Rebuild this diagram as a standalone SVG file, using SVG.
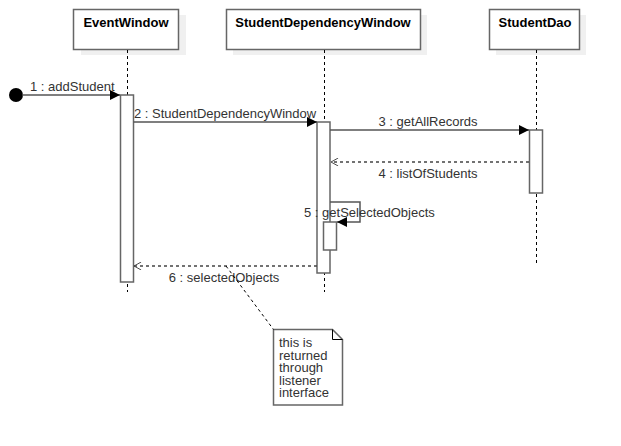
<svg xmlns="http://www.w3.org/2000/svg" width="621" height="446" viewBox="0 0 621 446">
<defs>
<marker id="filled" viewBox="0 0 10 10" refX="10" refY="5" markerWidth="12" markerHeight="10" markerUnits="userSpaceOnUse" orient="auto"><path d="M0,0 L10,5 L0,10 z" fill="#000"/></marker>
<marker id="open" viewBox="0 0 10 10" refX="9" refY="5" markerWidth="10" markerHeight="8" markerUnits="userSpaceOnUse" orient="auto"><path d="M0,0 L9,5 L0,10" fill="none" stroke="#444" stroke-width="1.2"/></marker>
</defs>
<style>
.shadow{fill:#f0f0f0;stroke:none}
.box{fill:#fff;stroke:#666;stroke-width:1.5}
.title{font-family:"Liberation Sans",Arial,sans-serif;font-size:13px;font-weight:bold;fill:#000;text-anchor:middle}
.life{stroke:#000;stroke-width:1;stroke-dasharray:3,3;fill:none}
.act{fill:#fff;stroke:#666;stroke-width:1.5}
.msg{stroke:#555;stroke-width:1.5;fill:none}
.ret{stroke:#444;stroke-width:1.3;stroke-dasharray:3,3;fill:none}
.lbl{font-family:"Liberation Sans",Arial,sans-serif;font-size:13px;fill:#333}
.note{fill:#fff;stroke:#666;stroke-width:1.5}
</style>
<g id="lifeline-EventWindow">
<rect class="shadow" x="81" y="15" width="105" height="40"/>
<rect class="box" x="73.5" y="9.5" width="105" height="40"/>
<text class="title" x="126" y="27">EventWindow</text>
<line class="life" x1="127.5" y1="50" x2="127.5" y2="292"/>
<rect class="act" x="120.5" y="95" width="13" height="187"/>
</g>
<g id="lifeline-StudentDependencyWindow">
<rect class="shadow" x="233" y="15" width="194" height="40"/>
<rect class="box" x="226.5" y="9.5" width="194" height="40"/>
<text class="title" x="323" y="27">StudentDependencyWindow</text>
<line class="life" x1="324.5" y1="50" x2="324.5" y2="292"/>
<rect class="act" x="317" y="122" width="13" height="151"/>
<rect class="act" x="323.5" y="222" width="13" height="28"/>
</g>
<g id="lifeline-StudentDao">
<rect class="shadow" x="496" y="15" width="90" height="40"/>
<rect class="box" x="489.5" y="9.5" width="90" height="40"/>
<text class="title" x="535" y="27">StudentDao</text>
<line class="life" x1="536.5" y1="50" x2="536.5" y2="263"/>
<rect class="act" x="529.5" y="130" width="13" height="63"/>
</g>
<g id="note">
<path class="note" d="M273.5,329.5 H332.5 L342.5,339.5 V405 H273.5 Z"/>
<path d="M332.5,329.5 V339.5 H342.5" fill="none" stroke="#000" stroke-width="1"/>
<text class="lbl" x="279" y="347">this is</text>
<text class="lbl" x="279" y="359.5">returned</text>
<text class="lbl" x="279" y="372">through</text>
<text class="lbl" x="279" y="384.5">listener</text>
<text class="lbl" x="279" y="397">interface</text>
</g>
<g id="connectors">
<circle cx="16" cy="95" r="7" fill="#000"/>
<line class="msg" x1="22" y1="95" x2="120" y2="95" marker-end="url(#filled)"/>
<text class="lbl" x="30" y="91">1 : addStudent</text>
<line class="msg" x1="133.5" y1="122" x2="317" y2="122" marker-end="url(#filled)"/>
<text class="lbl" x="134" y="118">2 : StudentDependencyWindow</text>
<line class="msg" x1="330" y1="130" x2="529" y2="130" marker-end="url(#filled)"/>
<text class="lbl" x="428" y="126" text-anchor="middle">3 : getAllRecords</text>
<line class="ret" x1="529" y1="162" x2="331" y2="162" marker-end="url(#open)"/>
<text class="lbl" x="428" y="178" text-anchor="middle">4 : listOfStudents</text>
<path class="msg" d="M330,202 H360 V222 H337" marker-end="url(#filled)"/>
<text class="lbl" x="304" y="217">5 : getSelectedObjects</text>
<line class="ret" x1="317" y1="266" x2="134" y2="266" marker-end="url(#open)"/>
<text class="lbl" x="224" y="282" text-anchor="middle">6 : selectedObjects</text>
<line x1="226" y1="266" x2="273.5" y2="329.5" stroke="#000" stroke-width="1" stroke-dasharray="3,3"/>
</g>
</svg>
